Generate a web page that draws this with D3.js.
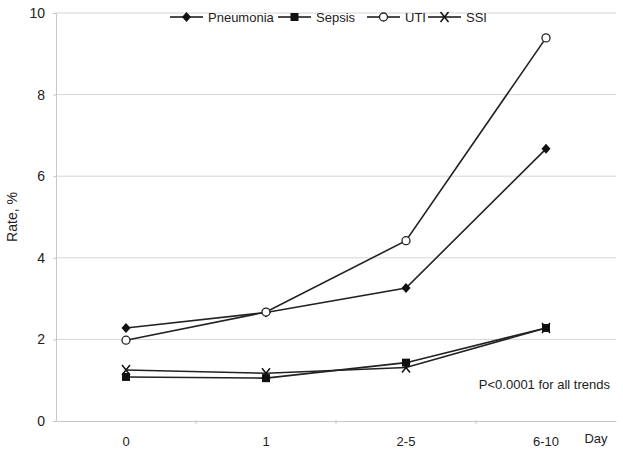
<!DOCTYPE html>
<html lang="en">
<head>
<meta charset="utf-8">
<title>Rate by day</title>
<script src="https://cdn.jsdelivr.net/npm/d3@7"></script>
<style>
  body { margin: 0; background: #fff; }
  text { font-family: "Liberation Sans", Arial, sans-serif; fill: #222; }
</style>
</head>
<body>
<script>
// data
var days = ["0", "1", "2-5", "6-10"];
var yTicks = [0, 2, 4, 6, 8, 10];
var pneumonia = [2.28, 2.66, 3.26, 6.67];
var sepsis = [1.08, 1.05, 1.43, 2.28];
var uti = [1.98, 2.67, 4.42, 9.39];
var ssi = [1.25, 1.17, 1.31, 2.28];
var seriesNames = ["Pneumonia", "Sepsis", "UTI", "SSI"];

var w = 623, h = 456;
var padLeft = 56, padRight = 616, padTop = 13, padBottom = 421;

var svg = d3.select("body").append("svg").attr("width", w).attr("height", h);

var x = d3.scaleBand().domain(days).range([padLeft, padRight]);
var y = d3.scaleLinear().domain([0, 10]).range([padBottom, padTop]);

// gridlines
svg.selectAll("line.grid")
   .data(yTicks.filter(function(d) { return d > 0; }))
   .enter().append("line")
   .attr("class", "grid")
   .attr("x1", padLeft).attr("x2", padRight)
   .attr("y1", function(d) { return y(d); })
   .attr("y2", function(d) { return y(d); })
   .attr("stroke", "#d6d6d6").attr("stroke-width", 1);

// y axis
var yAxis = svg.append("g")
   .attr("transform", "translate(" + padLeft + ",0)")
   .call(d3.axisLeft(y).tickValues(yTicks).tickSize(3).tickPadding(8));
yAxis.selectAll("path, line").attr("stroke", "#c8c8c8");
yAxis.selectAll("text").attr("font-size", "14px").attr("fill", "#333")
   .attr("font-family", "Liberation Sans, Arial, sans-serif");

// x axis
var xAxis = svg.append("g")
   .attr("transform", "translate(0," + padBottom + ")")
   .call(d3.axisBottom(x).tickSize(0).tickPadding(16));
xAxis.select("path").attr("stroke", "#c8c8c8");
xAxis.selectAll("text").attr("font-size", "13px").attr("fill", "#333")
   .attr("font-family", "Liberation Sans, Arial, sans-serif");
// small ticks between categories
svg.selectAll("line.xtick")
   .data(days.slice(1))
   .enter().append("line")
   .attr("class", "xtick")
   .attr("x1", function(d) { return x(d); })
   .attr("x2", function(d) { return x(d); })
   .attr("y1", padBottom - 1).attr("y2", padBottom + 3)
   .attr("stroke", "#c8c8c8");

svg.append("text")
   .attr("x", 596).attr("y", 443)
   .attr("text-anchor", "middle")
   .attr("font-size", "13px").attr("fill", "#333")
   .text("Day");

svg.append("text")
   .attr("transform", "translate(17," + ((padTop + padBottom) / 2) + ") rotate(-90)")
   .attr("text-anchor", "middle")
   .attr("font-size", "14px").attr("fill", "#333")
   .text("Rate, %");

// markers
var symbols = {
  Pneumonia: function(g) {
    g.append("path").attr("d", "M0,-5L4.5,0L0,5L-4.5,0Z")
     .attr("fill", "#111");
  },
  Sepsis: function(g) {
    g.append("rect").attr("x", -4).attr("y", -4).attr("width", 8).attr("height", 8)
     .attr("fill", "#111");
  },
  UTI: function(g) {
    g.append("circle").attr("r", 4).attr("fill", "#fff")
     .attr("stroke", "#222").attr("stroke-width", 1.3);
  },
  SSI: function(g) {
    g.append("path").attr("d", "M-4,-5L4,5M4,-5L-4,5")
     .attr("stroke", "#111").attr("stroke-width", 1.5);
  }
};

var allSeries = [
  { name: "Pneumonia", values: pneumonia },
  { name: "Sepsis", values: sepsis },
  { name: "SSI", values: ssi },
  { name: "UTI", values: uti }
];

var line = d3.line()
  .x(function(d, i) { return x(days[i]) + x.bandwidth() / 2; })
  .y(function(d) { return y(d); });

allSeries.forEach(function(s) {
  svg.append("path")
     .datum(s.values)
     .attr("d", line)
     .attr("fill", "none")
     .attr("stroke", "#222")
     .attr("stroke-width", 1.6);
});
allSeries.forEach(function(s) {
  s.values.forEach(function(v, i) {
    var g = svg.append("g")
       .attr("transform", "translate(" + (x(days[i]) + x.bandwidth() / 2) + "," + y(v) + ")");
    symbols[s.name](g);
  });
});

// legend
var legendX = [170, 278, 367, 428];
seriesNames.forEach(function(name, i) {
  var lg = svg.append("g").attr("transform", "translate(" + legendX[i] + ",17)");
  lg.append("line").attr("x1", 0).attr("x2", 33).attr("y1", 0).attr("y2", 0)
    .attr("stroke", "#111").attr("stroke-width", 1.6);
  var m = lg.append("g").attr("transform", "translate(16.5,0)");
  symbols[name](m);
  lg.append("text").attr("x", 38).attr("y", 5)
    .attr("font-size", "13px").attr("fill", "#222")
    .text(name);
});

svg.append("text")
   .attr("x", 610).attr("y", 389)
   .attr("text-anchor", "end")
   .attr("font-size", "13px").attr("fill", "#333")
   .text("P<0.0001 for all trends");
</script>
</body>
</html>
